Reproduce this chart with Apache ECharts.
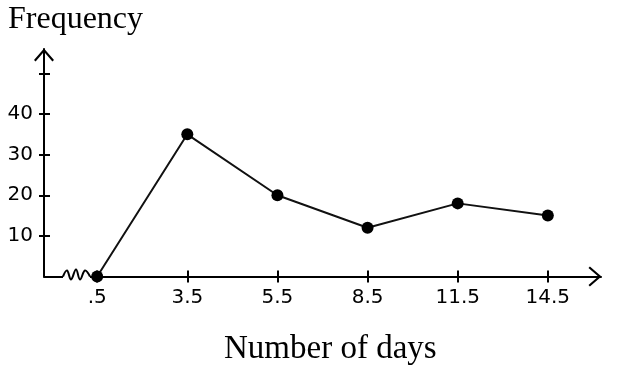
<!DOCTYPE html>
<html>
<head>
<meta charset="utf-8">
<script src="https://cdn.jsdelivr.net/npm/echarts@6/dist/echarts.min.js"></script>
<style>html,body{margin:0;padding:0;background:#fff;}#c{width:632px;height:369px;}</style>
</head>
<body>
<div id="c"></div>
<script>
var categories = ['.5', '3.5', '5.5', '8.5', '11.5', '14.5'];
var frequency = [0, 35, 20, 12, 18, 15];
var yTickValues = [10, 20, 30, 40, 50];
var yLabelValues = [10, 20, 30, 40];

var chart = echarts.init(document.getElementById('c'), null, {renderer: 'canvas'});
var idx = categories.map(function (_, i) { return i; });
var data = frequency.map(function (v, i) { return [i, v]; });
var chevron = 'path://M10,0 L20,11.6 L18.4,13 L10,3.2 L1.6,13 L0,11.6 Z';
var labelFont = {fontFamily: 'DejaVu Sans', fontSize: 20, color: '#000'};
var gridBox = {left: 44, right: 31, top: 49, bottom: 92.5, containLabel: false};

var xBase = {
  type: 'value', min: -0.59, max: 5.59, position: 'bottom',
  splitLine: {show: false}
};
var yBase = {
  type: 'value', min: 0, max: 56, position: 'left',
  splitLine: {show: false}
};

chart.setOption({
  animation: false,
  backgroundColor: '#fff',
  title: [
    {text: 'Frequency', left: 8, top: 4, padding: 0,
     textStyle: {fontFamily: 'Liberation Serif', fontSize: 32, fontWeight: 'normal', color: '#000'}},
    {text: 'Number of days', left: 224, top: 333, padding: 0,
     textStyle: {fontFamily: 'Liberation Serif', fontSize: 33, fontWeight: 'normal', color: '#000'}}
  ],
  grid: [Object.assign({}, gridBox), Object.assign({}, gridBox)],
  xAxis: [
    Object.assign({}, xBase, {
      gridIndex: 0,
      axisLine: {show: true, onZero: false, lineStyle: {color: '#000', width: 2},
                 symbol: ['none', chevron], symbolSize: [20, 13], symbolOffset: [0, -6]},
      axisTick: {show: true, inside: false, length: 6, lineStyle: {color: '#000', width: 2}, customValues: idx},
      axisLabel: Object.assign({show: true, margin: 11, customValues: idx,
        formatter: function (v) { return categories[Math.round(v)]; }}, labelFont)
    }),
    Object.assign({}, xBase, {
      gridIndex: 1,
      axisLine: {show: false, onZero: false},
      axisTick: {show: true, inside: true, length: 6, lineStyle: {color: '#000', width: 2}, customValues: idx},
      axisLabel: {show: false}
    })
  ],
  yAxis: [
    Object.assign({}, yBase, {
      gridIndex: 0,
      axisLine: {show: true, onZero: false, lineStyle: {color: '#000', width: 2},
                 symbol: ['none', chevron], symbolSize: [20, 13], symbolOffset: [0, -6]},
      axisTick: {show: true, inside: false, length: 5, lineStyle: {color: '#000', width: 2}, customValues: yTickValues},
      axisLabel: Object.assign({show: true, margin: 11, customValues: yLabelValues}, labelFont)
    }),
    Object.assign({}, yBase, {
      gridIndex: 1,
      axisLine: {show: false, onZero: false},
      axisTick: {show: true, inside: true, length: 6, lineStyle: {color: '#000', width: 2}, customValues: yTickValues},
      axisLabel: {show: false}
    })
  ],
  series: [{
    type: 'line',
    xAxisIndex: 0, yAxisIndex: 0,
    data: data,
    symbol: 'circle', symbolSize: 12,
    lineStyle: {color: '#111', width: 2},
    itemStyle: {color: '#000'},
    z: 5
  }]
});

// axis break (zigzag) decoration near the origin
var ox = chart.convertToPixel({xAxisIndex: 0}, -0.59);
var oy = chart.convertToPixel({yAxisIndex: 0}, 0);
var zx = ox + 19;
chart.setOption({
  graphic: [
    {type: 'rect', shape: {x: zx, y: oy - 2, width: 27, height: 4}, style: {fill: '#fff'}, z: 10},
    {type: 'polyline', z: 11,
     shape: {smooth: 0.4, points: [[zx, oy], [zx + 4, oy - 6], [zx + 8, oy + 3], [zx + 13, oy - 7], [zx + 17, oy + 3], [zx + 22, oy - 6], [zx + 27, oy]]},
     style: {stroke: '#000', lineWidth: 2, fill: null}}
  ]
});
</script>
</body>
</html>
